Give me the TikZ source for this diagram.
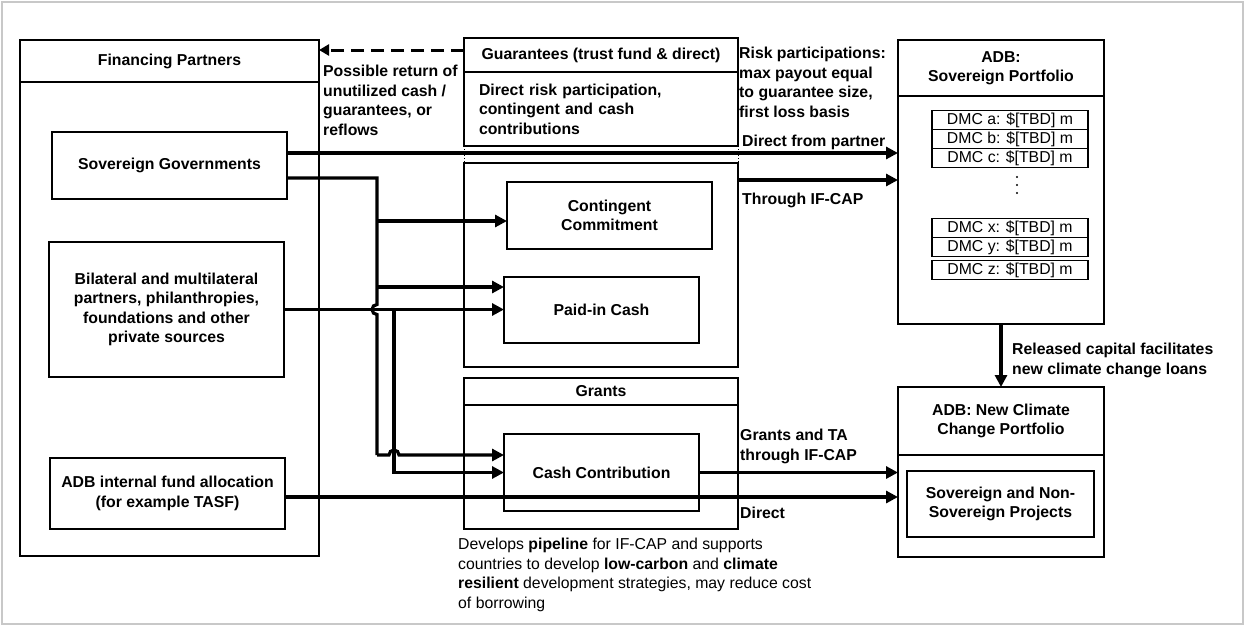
\documentclass[tikz,border=0pt]{standalone}
\usepackage{fontspec}
\setmainfont{Liberation Sans}
\usetikzlibrary{arrows.meta, positioning, calc}
\definecolor{framegray}{RGB}{200, 200, 200}
\newcommand\figfont{\fontsize{15.8}{19.5}\selectfont}
\tikzset{
  headbox/.style={
    rectangle, draw, line width=1.6pt, align=center,
    inner sep=0pt, outer sep=0pt, font=\figfont\bfseries
  },
  bodybox/.style={
    rectangle, draw, line width=1.6pt,
    inner sep=0pt, outer sep=0pt
  },
  srcbox/.style={
    rectangle, draw, line width=1.6pt, align=center,
    inner sep=0pt, outer sep=0pt, font=\figfont\bfseries
  },
  dmcrow/.style={
    rectangle, draw, line width=1.2pt, minimum width=156pt,
    minimum height=19pt, inner sep=0pt, outer sep=0pt, font=\figfont
  },
  flow/.style={-{Triangle[length=12pt,width=12pt]}, line width=3.2pt},
  link/.style={line width=3.2pt},
  returnflow/.style={-{Triangle[length=10pt,width=11pt]}, line width=3pt,
    dash pattern=on 13pt off 7pt},
  lbl/.style={font=\figfont\bfseries, align=left, anchor=north west, inner sep=0pt}
}

\begin{document}
\begin{tikzpicture}[x=1pt, y=-1pt]

  \useasboundingbox (0,0) rectangle (1246,627);
  \draw[framegray, line width=1.5pt] (2,2) rectangle (1243,624);

  %% ---- Financing partners ----
  \node[headbox, minimum width=299pt, minimum height=42pt] (finhead)
    at (169.5,61) {Financing Partners};
  \node[bodybox, minimum width=299pt, minimum height=474pt, below=0pt of finhead] (finbody) {};

  \node[srcbox, minimum width=235pt, minimum height=67pt] (sovgov)
    at (169.5,165.5) {Sovereign Governments};
  \node[srcbox, minimum width=235pt, minimum height=135pt] (bilat)
    at (166.5,309.5) {Bilateral and multilateral\\partners, philanthropies,\\foundations and other\\private sources};
  \node[srcbox, minimum width=235pt, minimum height=71pt] (adbint)
    at (167.5,493.5) {ADB internal fund allocation\\(for example TASF)};

  %% ---- Guarantees ----
  \node[headbox, minimum width=274pt, minimum height=34pt] (guarhead)
    at (601,55) {Guarantees (trust fund \& direct)};
  \node[bodybox, minimum width=274pt, minimum height=74pt, text width=244pt,
    inner xsep=15pt, align=left, font=\figfont\bfseries, below=0pt of guarhead] (guarbody)
    {Direct risk participation,\\contingent and cash\\contributions};

  \node[bodybox, minimum width=274pt, minimum height=204pt] (guarlow) at (601,265) {};
  \node[srcbox, minimum width=205pt, minimum height=67pt] (contcom)
    at (609.5,215.5) {Contingent\\Commitment};
  \node[srcbox, minimum width=195pt, minimum height=66pt] (paidin)
    at (601.5,310) {Paid-in Cash};

  \draw[dotted, line width=1pt] (guarbody.south west) -- (guarlow.north west);
  \draw[dotted, line width=1pt] (guarbody.south east) -- (guarlow.north east);

  %% ---- Grants ----
  \node[headbox, minimum width=274pt, minimum height=27pt] (granthead)
    at (601,391.5) {Grants};
  \node[bodybox, minimum width=274pt, minimum height=124pt, below=0pt of granthead] (grantbody) {};
  \node[srcbox, minimum width=195pt, minimum height=77pt] (cashcon)
    at (601.5,472.5) {Cash Contribution};

  \node[anchor=north west, align=left, inner sep=0pt, font=\figfont] (pipeline) at (458,538)
    {Develops \textbf{pipeline} for IF-CAP and supports\\countries to develop \textbf{low-carbon} and \textbf{climate}\\\textbf{resilient} development strategies, may reduce cost\\of borrowing};

  %% ---- ADB sovereign portfolio ----
  \node[headbox, minimum width=206pt, minimum height=56pt] (sovhead)
    at (1001,68) {ADB:\\Sovereign Portfolio};
  \node[bodybox, minimum width=206pt, minimum height=228pt, below=0pt of sovhead] (sovbody) {};

  \node[dmcrow] (dmca) at (1010,120) {DMC a: \$[TBD] m};
  \node[dmcrow, below=0pt of dmca] (dmcb) {DMC b: \$[TBD] m};
  \node[dmcrow, below=0pt of dmcb] (dmcc) {DMC c: \$[TBD] m};
  \foreach \dy in {177,185,193}
    \fill (1017,\dy) circle[radius=1.1pt];
  \node[dmcrow] (dmcx) at (1010,228) {DMC x: \$[TBD] m};
  \node[dmcrow, below=0pt of dmcx] (dmcy) {DMC y: \$[TBD] m};
  \node[dmcrow, below=4pt of dmcy] (dmcz) {DMC z: \$[TBD] m};

  %% ---- ADB new climate change portfolio ----
  \node[headbox, minimum width=206pt, minimum height=68pt] (newhead)
    at (1001,421) {ADB: New Climate\\Change Portfolio};
  \node[bodybox, minimum width=206pt, minimum height=102pt, below=0pt of newhead] (newbody) {};
  \node[srcbox, minimum width=187pt, minimum height=66pt] (projects)
    at (1000.5,504) {Sovereign and Non-\\Sovereign Projects};

  %% ---- return of unused funds ----
  \draw[returnflow] ([yshift=5pt]guarhead.west) -- ([yshift=5pt]guarhead.west -| finhead.east);
  \node[lbl] (returnlbl) at (323,65)
    {Possible return of\\unutilized cash /\\guarantees, or\\reflows};
  \node[lbl] (risklbl) at (739,47)
    {Risk participations:\\max payout equal\\to guarantee size,\\first loss basis};

  %% ---- into the sovereign portfolio ----
  \draw[flow] ([yshift=12.5pt]sovgov.east) -- ([yshift=12.5pt]sovgov.east -| sovbody.west);
  \node[lbl] (partnerlbl) at (742,135) {Direct from partner};

  \draw[flow] ([yshift=85pt]guarlow.east) -- ([yshift=85pt]guarlow.east -| sovbody.west);
  \node[lbl] (ifcaplbl) at (742,193) {Through IF-CAP};

  %% ---- sovereign trunk, hops over the bilateral line ----
  \coordinate (trunkx) at (377,0);
  \coordinate (bilx) at (394,0);

  \draw[link] ([yshift=-12.5pt]sovgov.east) -| ([yshift=5pt]trunkx |- bilat.east)
    arc[start angle=90, end angle=270, radius=5pt]
    -- ([yshift=17.5pt]cashcon.west -| trunkx);
  \draw[flow] ([yshift=-5.5pt]contcom.west -| trunkx) -- ([yshift=-5.5pt]contcom.west);
  \draw[flow] ([yshift=23pt]paidin.west -| trunkx) -- ([yshift=23pt]paidin.west);
  \draw[flow] ([yshift=17.5pt]cashcon.west -| trunkx)
    -- ([xshift=-5pt, yshift=17.5pt]cashcon.west -| bilx)
    arc[start angle=180, end angle=0, radius=5pt]
    -- ([yshift=17.5pt]cashcon.west);

  %% ---- bilateral sources ----
  \draw[flow] (bilat.east) -- (bilat.east -| paidin.west);
  \draw[flow] (bilat.east -| bilx) |- (cashcon.west);

  %% ---- into the new climate portfolio ----
  \draw[flow] (cashcon.east) -- (cashcon.east -| newbody.west);
  \node[lbl] (grantslbl) at (740,429) {Grants and TA\\through IF-CAP};

  \draw[flow] ([yshift=-3.5pt]adbint.east) -- ([yshift=-3.5pt]adbint.east -| newbody.west);
  \node[lbl] (directlbl) at (740,507) {Direct};

  \draw[flow] (sovbody.south) -- (newhead.north);
  \node[lbl] (releaselbl) at (1012,343)
    {Released capital facilitates\\new climate change loans};

\end{tikzpicture}
\end{document}
